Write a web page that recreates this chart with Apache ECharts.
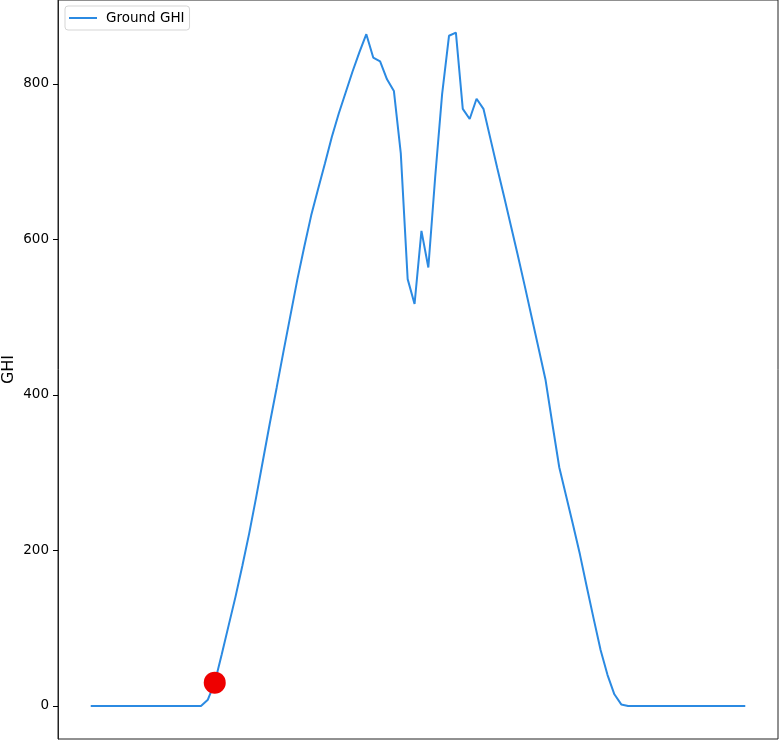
<!DOCTYPE html>
<html>
<head>
<meta charset="utf-8">
<script src="https://cdn.jsdelivr.net/npm/echarts@6/dist/echarts.min.js"></script>
<style>html,body{margin:0;padding:0;background:#fff}#c{width:782px;height:740px}</style>
</head>
<body>
<div id="c"></div>
<script>
// 15-minute steps across one day (index 0..95)
const ghi = [
  0,0,0,0,0,0,0,0,0,0,0,0,0,0,0,0,0,
  8,30,66,103,140,180,222,268,316,364,410,457,503,549,591,631,665,698,732,762,789,816,841,864,
  834,829,806,791,711,549,517,611,564,681,787,862,866,768,755,781,768,
  730,692,655,617,579,540,500,460,420,363,307,270,233,195,153,112,72,40,15,2,
  0,0,0,0,0,0,0,0,0,0,0,0,0,0,0,0,0,0
];
const markIndex = [18];
const markValue = [30];
const yTicks = [0, 200, 400, 600, 800];
const seriesName = 'Ground GHI';
const yName = 'GHI';

const lineData = ghi.map((v, i) => [i, v]);
const dotData = markIndex.map((x, k) => [x, markValue[k]]);

const chart = echarts.init(document.getElementById('c'), null, {renderer: 'canvas'});
chart.setOption({
  animation: false,
  backgroundColor: '#fff',
  grid: {left: 58, right: 4, top: 0, bottom: 1, containLabel: false, outerBoundsMode: 'none',
         show: true, borderColor: '#222', borderWidth: 1, backgroundColor: '#fff'},
  legend: {
    left: 65, top: 6, padding: [5, 5, 5, 4],
    borderColor: '#d5d5d5', borderWidth: 1, borderRadius: 3, backgroundColor: '#fff',
    itemWidth: 28, itemHeight: 2, itemGap: 10,
    textStyle: {fontFamily: 'DejaVu Sans', fontSize: 13.5, color: '#000', padding: [0, 0, 0, 4]},
    data: [{name: seriesName, icon: 'rect'}]
  },
  xAxis: {
    type: 'value', min: -4.75, max: 99.75,
    axisLine: {show: false, onZero: false}, axisTick: {show: false}, axisLabel: {show: false}, splitLine: {show: false}
  },
  yAxis: {
    type: 'value', min: -42.5, max: 908,
    name: yName, nameLocation: 'middle', nameGap: 41, nameMoveOverlap: false,
    nameTextStyle: {fontFamily: 'DejaVu Sans', fontSize: 16, color: '#000'},
    axisLine: {show: true, onZero: false, lineStyle: {color: '#222', width: 1}},
    axisTick: {show: true, inside: false, length: 5, lineStyle: {color: '#000'}, customValues: yTicks},
    axisLabel: {fontFamily: 'DejaVu Sans', fontSize: 13.5, color: '#000', margin: 9, customValues: yTicks},
    splitLine: {show: false}
  },
  series: [
    {
      name: seriesName, type: 'line', data: lineData, symbol: 'none',
      lineStyle: {color: '#2b8ae2', width: 2}, itemStyle: {color: '#2b8ae2'}
    },
    {
      name: 'mark', type: 'scatter', data: dotData, symbol: 'circle', symbolSize: 22,
      itemStyle: {color: '#ee0000', opacity: 1}, z: 5
    }
  ]
});
</script>
</body>
</html>
